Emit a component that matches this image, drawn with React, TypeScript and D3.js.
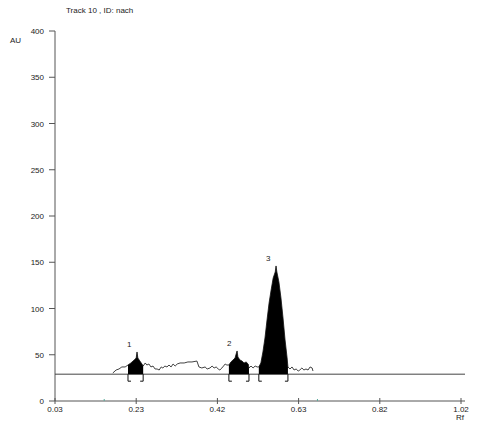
import React from "react";
import * as d3 from "d3";

const titleText = "Track  10 , ID: nach";
const yTicks = [0, 50, 100, 150, 200, 250, 300, 350, 400];
const xTickValues = [0.03, 0.228, 0.426, 0.624, 0.822, 1.02];
const xTickLabels = ["0.03", "0.23", "0.42", "0.63", "0.82", "1.02"];
const baselineAU = 29;

const traceRf = [
  0.171, 0.179, 0.186, 0.193, 0.201, 0.208, 0.215, 0.223, 0.228, 0.23, 0.232, 0.237, 0.242, 0.245,
  0.25, 0.254, 0.259, 0.264, 0.269, 0.274, 0.279, 0.284, 0.289, 0.293, 0.298, 0.303, 0.308, 0.313,
  0.318, 0.323, 0.328, 0.335, 0.345, 0.354, 0.364, 0.376, 0.381, 0.388, 0.396, 0.401, 0.408, 0.413,
  0.418, 0.423, 0.428, 0.432, 0.437, 0.445, 0.449, 0.454, 0.459, 0.464, 0.469, 0.471, 0.474, 0.476,
  0.481, 0.486, 0.491, 0.496, 0.501, 0.503, 0.508, 0.513, 0.518, 0.523, 0.527, 0.532, 0.537, 0.542,
  0.547, 0.552, 0.557, 0.562, 0.567, 0.569, 0.571, 0.576, 0.581, 0.586, 0.591, 0.596, 0.598, 0.603,
  0.608, 0.613, 0.618, 0.623, 0.627, 0.632, 0.637, 0.642, 0.647, 0.652, 0.657, 0.659,
];
const traceAU = [
  30.3, 33.5, 34.6, 36.8, 36.8, 38.9, 41.1, 44.3, 46.5, 53.0, 46.5, 43.2, 40.0, 37.8,
  41.1, 38.9, 40.0, 36.8, 37.8, 34.6, 34.6, 33.5, 36.8, 35.7, 37.8, 36.8, 38.9, 36.8,
  40.0, 37.8, 40.0, 41.1, 41.1, 42.2, 42.2, 43.2, 36.8, 35.7, 36.8, 34.6, 35.7, 37.8,
  35.7, 36.8, 34.6, 33.5, 35.7, 40.0, 38.9, 38.9, 42.2, 44.3, 46.5, 49.7, 54.1, 47.6,
  44.3, 43.2, 41.1, 42.2, 40.0, 35.7, 37.8, 35.7, 37.8, 36.8, 36.8, 41.1, 53.0, 68.1,
  87.6, 105.9, 120.0, 133.0, 139.5, 146.0, 139.5, 128.6, 111.4, 89.7, 65.9, 46.5, 36.8, 34.6,
  36.8, 33.5, 34.6, 32.4, 33.5, 35.7, 33.5, 34.6, 33.5, 36.8, 35.7, 32.4,
];

const peakIds = ["1", "2", "3"];
const peakStart = [0.208, 0.454, 0.527];
const peakEnd = [0.245, 0.503, 0.598];
const trackMarks = [0.15, 0.67];

export default function App() {
  const W = 482;
  const H = 432;
  const x = d3.scaleLinear().domain([0.03, 1.02]).range([55, 461]);
  const y = d3.scaleLinear().domain([0, 400]).range([401, 31]);
  const pts = traceRf.map((r, i) => ({ r, v: traceAU[i] }));
  const line = d3.line<{ r: number; v: number }>().x((d) => x(d.r)).y((d) => y(d.v));
  const area = d3
    .area<{ r: number; v: number }>()
    .x((d) => x(d.r))
    .y0(y(baselineAU))
    .y1((d) => y(d.v));
  const font = "'Liberation Sans', Arial, sans-serif";
  const by = y(baselineAU);

  return (
    <svg width={W} height={H} style={{ position: "absolute", left: 0, top: 0, background: "#fff" }} fontFamily={font}>
      <rect width={W} height={H} fill="#fff" />
      <text x={66} y={13} fontSize={8} fill="#222">{titleText}</text>
      <text x={10} y={43} fontSize={8} fill="#222">AU</text>
      {/* y axis */}
      <line x1={55} x2={55} y1={y(400)} y2={y(0)} stroke="#555" strokeWidth={1} />
      {yTicks.map((t) => (
        <g key={t}>
          <line x1={49} x2={55} y1={y(t)} y2={y(t)} stroke="#555" />
          <text x={44} y={y(t) + 3} fontSize={8} textAnchor="end" fill="#222">{t}</text>
        </g>
      ))}
      {/* x axis */}
      <line x1={55} x2={465} y1={y(0)} y2={y(0)} stroke="#555" />
      {xTickValues.map((t, i) => (
        <g key={t}>
          <line x1={x(t)} x2={x(t)} y1={y(0) - 3} y2={y(0) + 3} stroke="#555" />
          <text x={x(t)} y={y(0) + 11} fontSize={8} textAnchor="middle" fill="#222">{xTickLabels[i]}</text>
        </g>
      ))}
      {trackMarks.map((t) => (
        <line key={t} x1={x(t)} x2={x(t)} y1={y(0) - 2} y2={y(0)} stroke="#5a9" />
      ))}
      <text x={456} y={420} fontSize={8} fill="#222">Rf</text>
      {/* baseline */}
      <line x1={55} x2={465} y1={by} y2={by} stroke="#444" strokeWidth={1} />
      {/* filled peaks */}
      {peakIds.map((id, i) => {
        const seg = pts.filter((p) => p.r >= peakStart[i] - 1e-6 && p.r <= peakEnd[i] + 1e-6);
        return <path key={id} d={area(seg) || ""} fill="#000" />;
      })}
      <path d={line(pts) || ""} fill="none" stroke="#111" strokeWidth={0.8} />
      {/* brackets */}
      {peakIds.map((id, i) => {
        const xs = x(peakStart[i]);
        const xe = x(peakEnd[i]);
        return (
          <g key={"b" + id} stroke="#111" strokeWidth={1} fill="none">
            <path d={`M${xs + 3},${by + 7} H${xs} V${by}`} />
            <path d={`M${xe - 3},${by + 7} H${xe} V${by}`} />
          </g>
        );
      })}
      {/* peak labels */}
      {peakIds.map((id, i) => {
        const seg = pts.filter((p) => p.r >= peakStart[i] && p.r <= peakEnd[i]);
        const apex = seg.reduce((a, b) => (b.v > a.v ? b : a));
        return (
          <text key={"l" + id} x={x(apex.r) - 10} y={y(apex.v) - 5} fontSize={8} fill="#222">{id}</text>
        );
      })}
    </svg>
  );
}
